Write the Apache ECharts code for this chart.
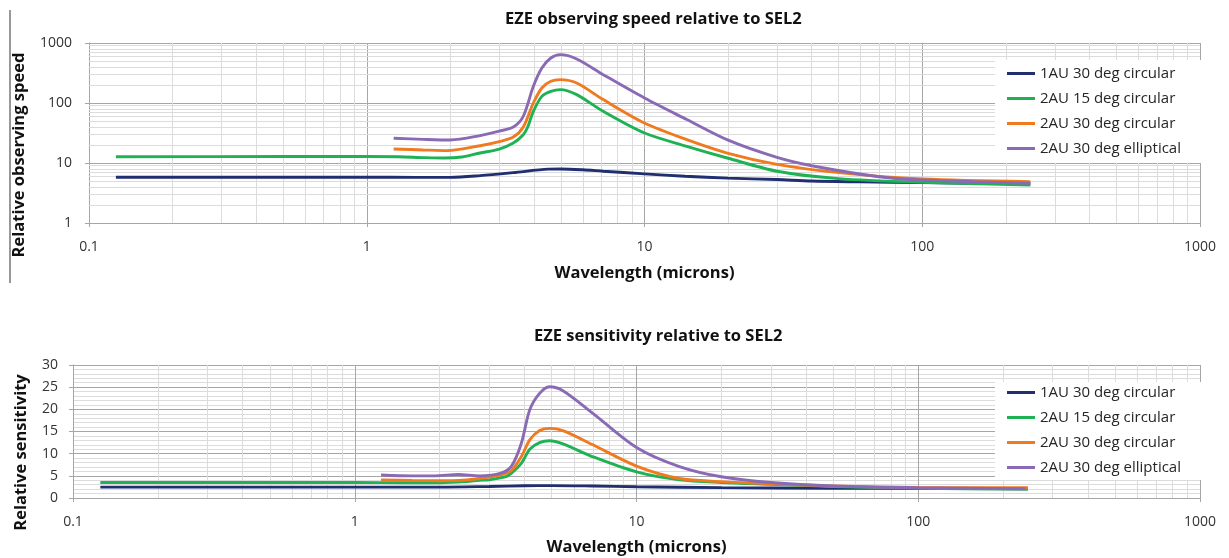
<!DOCTYPE html>
<html><head><meta charset="utf-8">
<script src="https://cdn.jsdelivr.net/npm/echarts@6/dist/echarts.min.js"></script>
<style>html,body{margin:0;padding:0;background:#fff}#c{width:1229px;height:558px}</style>
</head><body><div id="c"></div>
<script>
// ---- data ----
const seriesNames = ['1AU 30 deg circular', '2AU 15 deg circular', '2AU 30 deg circular', '2AU 30 deg elliptical'];
const titleTop = 'EZE observing speed relative to SEL2';
const titleBottom = 'EZE sensitivity relative to SEL2';
const xName = 'Wavelength (microns)';
const yNameTop = 'Relative observing speed';
const yNameBottom = 'Relative sensitivity';

// [wavelength (microns), relative observing speed]
const speed1AU30circ = [[0.125,5.8],[0.5,5.8],[1,5.8],[1.5,5.75],[2,5.75],[2.56,6.15],[3.37,6.9],[4.5,7.9],[5,7.95],[6,7.7],[7.1,7.3],[10,6.6],[14,6.0],[20,5.6],[30,5.3],[40,5.0],[60,4.85],[100,4.7],[245,4.5]];
const speed2AU15circ = [[0.125,12.7],[0.5,12.8],[1,12.8],[1.3,12.7],[1.6,12.3],[1.9,12.1],[2.2,12.6],[2.56,14.7],[3.0,17.1],[3.37,21.5],[3.66,29.6],[3.8,40],[3.98,72.6],[4.27,129],[4.6,156],[4.97,167],[5.7,138],[7.1,72.6],[10,31.6],[14.2,19],[20,12],[30,7.3],[50,5.5],[100,4.76],[245,4.3]];
const speed2AU30circ = [[1.25,17.1],[1.6,16.5],[1.95,16.1],[2.56,19.4],[3.0,22.7],[3.37,27.1],[3.66,39.8],[3.98,100],[4.27,178],[4.6,230],[4.97,245],[5.7,215],[7.1,114],[10,46.4],[14.2,24.5],[20,14.5],[30,9.5],[50,6.9],[100,5.4],[245,4.9]];
const speed2AU30ellip = [[1.25,25.9],[1.6,24.8],[2.0,24.2],[2.56,28.6],[3.0,34],[3.37,39.8],[3.66,60],[3.98,190],[4.27,383],[4.6,562],[4.97,639],[5.7,541],[7.1,297],[10,121],[14.2,53],[20,24],[30,12.4],[40,9.0],[70,5.9],[100,5.2],[245,4.6]];

// [wavelength (microns), relative sensitivity]
const sens1AU30circ = [[0.125,2.45],[1,2.45],[2,2.45],[3,2.6],[4,2.75],[5,2.8],[7,2.7],[10,2.55],[20,2.35],[50,2.2],[100,2.15],[245,2.1]];
const sens2AU15circ = [[0.125,3.5],[1,3.5],[1.5,3.45],[2,3.45],[2.5,3.7],[2.77,4.0],[3.0,4.1],[3.44,4.8],[3.6,5.6],[3.9,7.8],[4.18,11.0],[4.53,12.5],[4.91,12.9],[5.48,12.2],[7,9.3],[10,5.9],[14.2,4.1],[20,3.5],[30,3.1],[50,2.6],[100,2.2],[245,2.0]];
const sens2AU30circ = [[1.24,4.05],[1.6,3.95],[2,3.9],[2.5,4.1],[2.77,4.4],[3.3,5.2],[3.6,6.2],[3.9,9.3],[4.18,13.1],[4.53,15.2],[4.91,15.7],[5.48,15.2],[7,12],[10,7.2],[14.2,4.4],[20,3.7],[30,3.2],[50,2.7],[100,2.4],[245,2.3]];
const sens2AU30ellip = [[1.24,5.2],[1.6,5.0],[1.92,5.0],[2.33,5.3],[2.77,5.0],[3.3,5.6],[3.6,7.2],[3.9,12.3],[4.18,19.9],[4.53,23.6],[4.91,25.1],[5.48,24.2],[7,19.1],[10,11.4],[14.2,7.1],[20,4.8],[30,3.5],[50,2.7],[100,2.3],[240,2.1]];

// minor gridline values (log axes)
const xMinorGrid = [0.2,0.3,0.4,0.5,0.6,0.7,0.8,0.9,2,3,4,5,6,7,8,9,20,30,40,50,60,70,80,90,200,300,400,500,600,700,800,900];
const yMinorGridTop = [2,3,4,5,6,7,8,9,20,30,40,50,60,70,80,90,200,300,400,500,600,700,800,900];

// ---- chart ----
const colors = ['#1f2f70', '#1fb254', '#ef7a1f', '#8a6ab4'];
const FF = "'Open Sans', 'Liberation Sans', sans-serif";
const chart = echarts.init(document.getElementById('c'), null, {renderer: 'canvas'});

function lineSeries(name, data, i, gi) {
  return {
    name, type: 'line', data, xAxisIndex: gi, yAxisIndex: gi,
    showSymbol: false, symbol: 'none', smooth: 0.3,
    lineStyle: {width: 2.9, color: colors[i]}, itemStyle: {color: colors[i]},
    z: 3, silent: true
  };
}
function gridHelper(gi, xs, ys) {
  return {
    type: 'line', data: [], xAxisIndex: gi, yAxisIndex: gi, silent: true, z: 1,
    markLine: {
      silent: true, symbol: 'none', animation: false, label: {show: false}, z: 1,
      lineStyle: {color: '#dcdcdc', width: 1, type: 'solid'},
      emphasis: {disabled: true},
      data: xs.map(v => ({xAxis: v})).concat(ys.map(v => ({yAxis: v})))
    }
  };
}
const plainNum = v => String(v);
const axisLabelStyle = {color: '#333', fontFamily: FF, fontSize: 14, formatter: plainNum};
const nameStyle = {color: '#111', fontFamily: FF, fontSize: 16.5, fontWeight: 'bold'};
const legendBase = {
  orient: 'vertical', left: 995, backgroundColor: '#fff', z: 10,
  itemWidth: 28, itemHeight: 3, icon: 'rect', itemGap: 10,
  textStyle: {color: '#262626', fontFamily: FF, fontSize: 15},
  data: seriesNames, selectedMode: false
};
const titleStyle = {fontFamily: FF, fontSize: 16.5, fontWeight: 'bold', color: '#111'};

chart.setOption({
  animation: false,
  backgroundColor: '#fff',
  title: [
    {text: titleTop, left: 500, top: 6, textStyle: titleStyle},
    {text: titleBottom, left: 529, top: 323, textStyle: titleStyle}
  ],
  legend: [
    Object.assign({}, legendBase, {top: 60, padding: [6, 22, 7, 12]}),
    Object.assign({}, legendBase, {top: 382, padding: [3, 22, 5, 12]})
  ],
  grid: [
    {left: 89, right: 29, top: 43, height: 180, containLabel: false},
    {left: 73, right: 29, top: 365, height: 133, containLabel: false}
  ],
  xAxis: [
    {type: 'log', logBase: 10, min: 0.1, max: 1000, gridIndex: 0,
     name: xName, nameLocation: 'middle', nameGap: 42, nameTextStyle: nameStyle,
     axisLine: {show: true, lineStyle: {color: '#a6a6a6'}},
     axisTick: {show: true, length: 4, lineStyle: {color: '#a6a6a6'}},
     axisLabel: Object.assign({margin: 17}, axisLabelStyle),
     splitLine: {show: true, lineStyle: {color: '#a6a6a6', width: 1}}},
    {type: 'log', logBase: 10, min: 0.1, max: 1000, gridIndex: 1,
     name: xName, nameLocation: 'middle', nameGap: 41, nameTextStyle: nameStyle,
     axisLine: {show: true, lineStyle: {color: '#a6a6a6'}},
     axisTick: {show: true, length: 4, lineStyle: {color: '#a6a6a6'}},
     axisLabel: Object.assign({margin: 17}, axisLabelStyle),
     splitLine: {show: true, lineStyle: {color: '#a6a6a6', width: 1}}}
  ],
  yAxis: [
    {type: 'log', logBase: 10, min: 1, max: 1000, gridIndex: 0,
     name: yNameTop, nameLocation: 'middle', nameGap: 61,
     nameTextStyle: Object.assign({padding: [0, 44, 0, 0]}, nameStyle),
     axisLine: {show: true, lineStyle: {color: '#a6a6a6'}},
     axisTick: {show: true, length: 4, lineStyle: {color: '#a6a6a6'}},
     axisLabel: Object.assign({margin: 17}, axisLabelStyle),
     splitLine: {show: true, lineStyle: {color: '#a6a6a6', width: 1}}},
    {type: 'value', min: 0, max: 30, interval: 5, gridIndex: 1,
     name: yNameBottom, nameLocation: 'middle', nameGap: 43,
     nameTextStyle: Object.assign({padding: [0, 42, 0, 0]}, nameStyle),
     axisLine: {show: true, lineStyle: {color: '#a6a6a6'}},
     axisTick: {show: true, length: 4, lineStyle: {color: '#a6a6a6'}},
     minorTick: {show: false, splitNumber: 5},
     minorSplitLine: {show: true, lineStyle: {color: '#dcdcdc', width: 1}},
     axisLabel: Object.assign({margin: 15}, axisLabelStyle),
     splitLine: {show: true, lineStyle: {color: '#a6a6a6', width: 1}}}
  ],
  graphic: [
    {type: 'line', shape: {x1: 10, y1: 10, x2: 10, y2: 283}, style: {stroke: '#777', lineWidth: 1.5}, silent: true}
  ],
  series: [
    gridHelper(0, xMinorGrid, yMinorGridTop),
    gridHelper(1, xMinorGrid, []),
    lineSeries(seriesNames[0], speed1AU30circ, 0, 0),
    lineSeries(seriesNames[1], speed2AU15circ, 1, 0),
    lineSeries(seriesNames[2], speed2AU30circ, 2, 0),
    lineSeries(seriesNames[3], speed2AU30ellip, 3, 0),
    lineSeries(seriesNames[0], sens1AU30circ, 0, 1),
    lineSeries(seriesNames[1], sens2AU15circ, 1, 1),
    lineSeries(seriesNames[2], sens2AU30circ, 2, 1),
    lineSeries(seriesNames[3], sens2AU30ellip, 3, 1)
  ]
});
</script></body></html>
